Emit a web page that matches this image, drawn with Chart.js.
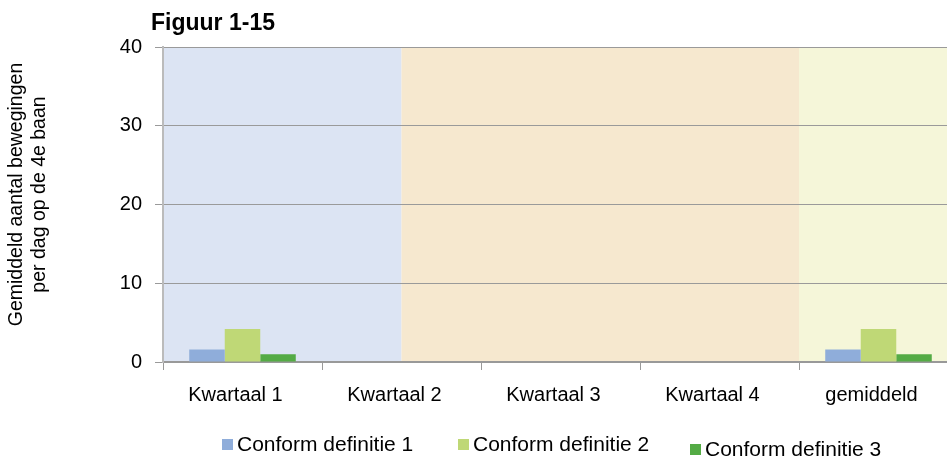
<!DOCTYPE html>
<html>
<head>
<meta charset="utf-8">
<script src="https://cdn.jsdelivr.net/npm/chart.js@4"></script>
<style>
html,body{margin:0;padding:0;background:#fff;overflow:hidden;}
#wrap{width:960px;height:457px;}
</style>
</head>
<body>
<div id="wrap"><canvas id="c" width="960" height="457"></canvas></div>
<script>
const categories = ['Kwartaal 1', 'Kwartaal 2', 'Kwartaal 3', 'Kwartaal 4', 'gemiddeld'];
const definitie1 = [1.6, 0, 0, 0, 1.6];
const definitie2 = [4.2, 0, 0, 0, 4.2];
const definitie3 = [1.0, 0, 0, 0, 1.0];
const seriesNames = ['Conform definitie 1', 'Conform definitie 2', 'Conform definitie 3'];
const yTicks = [0, 10, 20, 30, 40];
const chartTitle = 'Figuur 1-15';
const yTitle = ['Gemiddeld aantal bewegingen', 'per dag op de 4e baan'];

const FONT = 'Liberation Sans';
const colors = ['#8fadda', '#bfd876', '#54ab45'];
const bands = [
  {from: -0.5, to: 1.0, color: '#dce4f3'},
  {from: 1.0, to: 3.5, color: '#f6e8cf'},
  {from: 3.5, to: 4.5, color: '#f5f6d9'}
];

const bgPlugin = {
  id: 'bands',
  beforeDraw(chart) {
    const {ctx, chartArea, scales} = chart;
    const x = scales.x;
    ctx.save();
    bands.forEach(b => {
      const x0 = x.getPixelForValue(b.from);
      const x1 = x.getPixelForValue(b.to);
      ctx.fillStyle = b.color;
      ctx.fillRect(x0, chartArea.top, x1 - x0, chartArea.bottom - chartArea.top);
    });
    ctx.restore();
  }
};

const textPlugin = {
  id: 'texts',
  afterDraw(chart) {
    const {ctx, chartArea} = chart;
    ctx.save();
    ctx.fillStyle = '#000';
    ctx.font = 'bold 23px "' + FONT + '"';
    ctx.textBaseline = 'middle';
    ctx.textAlign = 'left';
    ctx.fillText(chartTitle, chartArea.left - 12, 24);
    ctx.font = '19.5px "' + FONT + '"';
    ctx.textAlign = 'center';
    const cy = (chartArea.top + chartArea.bottom) / 2 - 10;
    yTitle.forEach((t, i) => {
      ctx.save();
      ctx.translate(17 + i * 23, cy);
      ctx.rotate(-Math.PI / 2);
      ctx.fillText(t, 0, 0);
      ctx.restore();
    });
    ctx.font = '21px "' + FONT + '"';
    ctx.textAlign = 'left';
    const legX = [222, 458, 690];
    const legY = [445, 445, 450];
    chart.data.datasets.forEach((ds, i) => {
      ctx.fillStyle = ds.backgroundColor;
      ctx.fillRect(legX[i], legY[i] - 6, 11, 11);
      ctx.fillStyle = '#000';
      ctx.fillText(ds.label, legX[i] + 15, legY[i]);
    });
    ctx.restore();
  }
};

new Chart(document.getElementById('c'), {
  type: 'bar',
  data: {
    labels: categories,
    datasets: [
      {label: seriesNames[0], data: definitie1, backgroundColor: colors[0]},
      {label: seriesNames[1], data: definitie2, backgroundColor: colors[1]},
      {label: seriesNames[2], data: definitie3, backgroundColor: colors[2]}
    ]
  },
  options: {
    responsive: false,
    animation: false,
    devicePixelRatio: 1,
    layout: {padding: {left: 0, right: 2, top: 47, bottom: 45}},
    datasets: {bar: {categoryPercentage: 0.67, barPercentage: 1.0}},
    plugins: {legend: {display: false}, tooltip: {enabled: false}, title: {display: false}},
    scales: {
      x: {
        grid: {display: true, drawOnChartArea: false, drawTicks: true, tickLength: 8, color: '#999', offset: true},
        border: {display: true, color: '#999', width: 2},
        ticks: {color: '#000', font: {family: FONT, size: 20}, padding: 13, labelOffset: -7},
        afterFit(s) { s.height = 50; }
      },
      y: {
        min: 0, max: 40,
        afterBuildTicks(s) { s.ticks = yTicks.map(v => ({value: v})); },
        grid: {color: '#9a9a9a', lineWidth: 1, tickLength: 8, drawTicks: true},
        border: {display: true, color: '#bbb', width: 2},
        ticks: {color: '#000', font: {family: FONT, size: 20}, padding: 13},
        afterFit(s) { s.width = 163; }
      }
    }
  },
  plugins: [bgPlugin, textPlugin]
});
</script>
</body>
</html>
